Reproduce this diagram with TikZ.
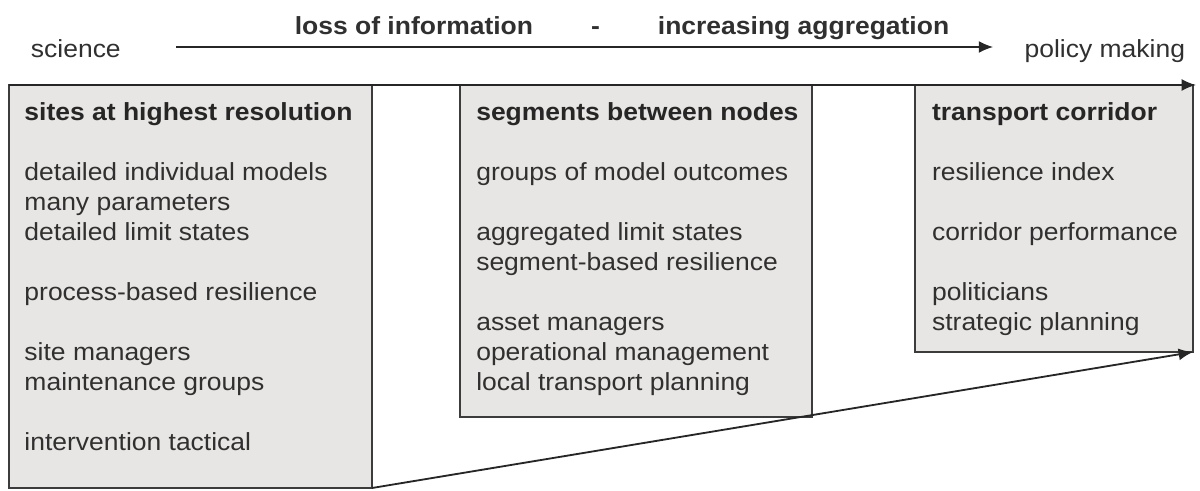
\documentclass[tikz,border=0pt]{standalone}
\usepackage{fontspec}
\setmainfont[FakeStretch=1.07]{Liberation Sans}
\usetikzlibrary{positioning, arrows.meta}
\definecolor{boxgray}{RGB}{232,230,228}
\definecolor{edgegray}{RGB}{60,60,60}
\definecolor{textgray}{RGB}{48,48,48}

\begin{document}
\begin{tikzpicture}
\tikzset{
>={Latex[length=0.36cm, width=0.3cm]}, % filled arrow heads
every node/.style={font=\fontsize{17.6}{21.3}\selectfont, text=textgray}, % one size for every label
level/.style={draw=edgegray, line width=1.4pt, fill=boxgray, anchor=north west, inner sep=0pt, outer sep=0pt}, % the grey boxes
items/.style={align=left, inner sep=0pt}, % text inside a box
flow/.style={->, line width=1.3pt, draw=black!85}, % the arrows
}
\useasboundingbox (0,0) rectangle (30,-12.275);

	% heading over the arrow
	\node[anchor=base west] (science) at (0.65,-1.45) {science};
	\node[anchor=base east] (policy) at (29.75,-1.45) {policy making};
	\node[anchor=base] (aggregation) at (15.55,-0.875) {\textbf{loss of information\hspace{1.45cm}-\hspace{1.45cm}increasing aggregation}};
	\coordinate (flow start) at (4.4,-1.175);
	\coordinate (flow end) at (24.83,-1.175);

	% the three levels
	\node[level, minimum width=9.075cm, minimum height=10.075cm] (sites) at (0.225,-2.125) {};
	\node[level, minimum width=8.8cm, minimum height=8.3cm, below right=0cm and 2.2cm of sites.north east] (segments) {};
	\node[level, minimum width=6.95cm, minimum height=6.675cm, below right=0cm and 2.575cm of segments.north east] (corridor) {};
	\coordinate (top end) at (29.9,-2.125);

	\node[items, below right=0.44cm and 0.38cm of sites.north west] (sites text) {\textbf{\color{black!85}sites at highest resolution}\\[\baselineskip]
		detailed individual models\\ many parameters\\ detailed limit states\\[\baselineskip]
		process-based resilience\\[\baselineskip]
		site managers\\ maintenance groups\\[\baselineskip]
		intervention tactical};
	\node[items, below right=0.44cm and 0.4cm of segments.north west] (segments text) {\textbf{\color{black!85}segments between nodes}\\[\baselineskip]
		groups of model outcomes\\[\baselineskip]
		aggregated limit states\\ segment-based resilience\\[\baselineskip]
		asset managers\\ operational management\\ local transport planning};
	\node[items, below right=0.44cm and 0.42cm of corridor.north west] (corridor text) {\textbf{\color{black!85}transport corridor}\\[\baselineskip]
		resilience index\\[\baselineskip]
		corridor performance\\[\baselineskip]
		politicians\\ strategic planning};

	\draw[flow] (flow start) -- (flow end);
	\draw[flow] (sites.north west) -- (top end);
	\draw[flow] (sites.south east) -- (corridor.south east);
\end{tikzpicture}
\end{document}
